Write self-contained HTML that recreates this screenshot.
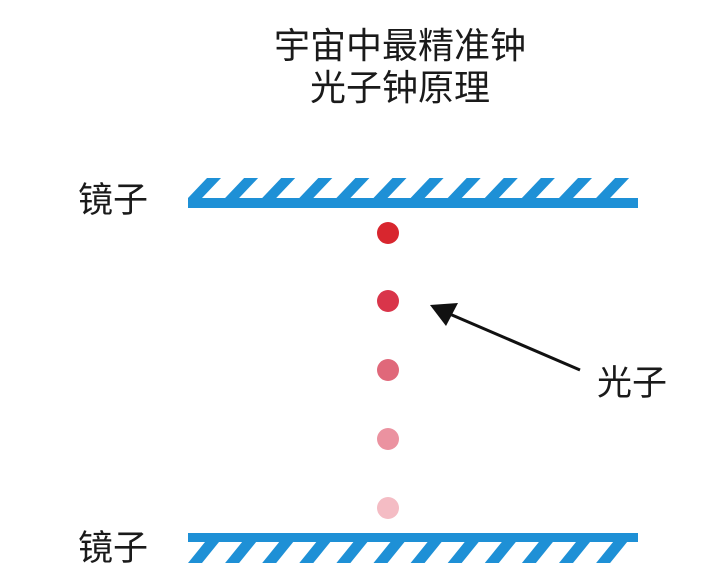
<!DOCTYPE html>
<html><head><meta charset="utf-8"><style>
html,body{margin:0;padding:0;background:#fff;}
svg{display:block;}
text{font-family:"Liberation Sans","Noto Sans CJK SC",sans-serif;fill:#1a1a1a;}
</style></head><body>
<svg width="720" height="577" viewBox="0 0 720 577" xmlns="http://www.w3.org/2000/svg">
<text x="400" y="58" font-size="36" text-anchor="middle">宇宙中最精准钟</text>
<text x="400" y="100" font-size="36" text-anchor="middle">光子钟原理</text>
<text x="78" y="212" font-size="35">镜子</text>
<text x="78" y="560" font-size="35">镜子</text>
<text x="597" y="395" font-size="35">光子</text>
<g fill="#1e90d6">
<rect x="188" y="198" width="450" height="10"/>
<rect x="188" y="533" width="450" height="9"/>
<g id="th">
<polygon points="188,198 202,198 221,178 207,178"/>
</g>
<use href="#th" x="37.1"/><use href="#th" x="74.2"/><use href="#th" x="111.3"/><use href="#th" x="148.4"/><use href="#th" x="185.5"/><use href="#th" x="222.6"/><use href="#th" x="259.7"/><use href="#th" x="296.8"/><use href="#th" x="333.9"/><use href="#th" x="371"/><use href="#th" x="408.1"/>
<g id="bh">
<polygon points="205,542 219,542 202,563 188,563"/>
</g>
<use href="#bh" x="37.1"/><use href="#bh" x="74.2"/><use href="#bh" x="111.3"/><use href="#bh" x="148.4"/><use href="#bh" x="185.5"/><use href="#bh" x="222.6"/><use href="#bh" x="259.7"/><use href="#bh" x="296.8"/><use href="#bh" x="333.9"/><use href="#bh" x="371"/><use href="#bh" x="408.1"/>
</g>
<circle cx="388" cy="233" r="11" fill="#d8262e"/>
<circle cx="388" cy="301" r="11" fill="#d9354a"/>
<circle cx="388" cy="370" r="11" fill="#e0687a"/>
<circle cx="388" cy="439" r="11" fill="#eb92a0"/>
<circle cx="388" cy="508" r="11" fill="#f4bcc4"/>
<line x1="580" y1="370" x2="445" y2="312" stroke="#111" stroke-width="3"/>
<polygon points="430,305 458,303 446,326" fill="#111"/>
</svg>
</body></html>
